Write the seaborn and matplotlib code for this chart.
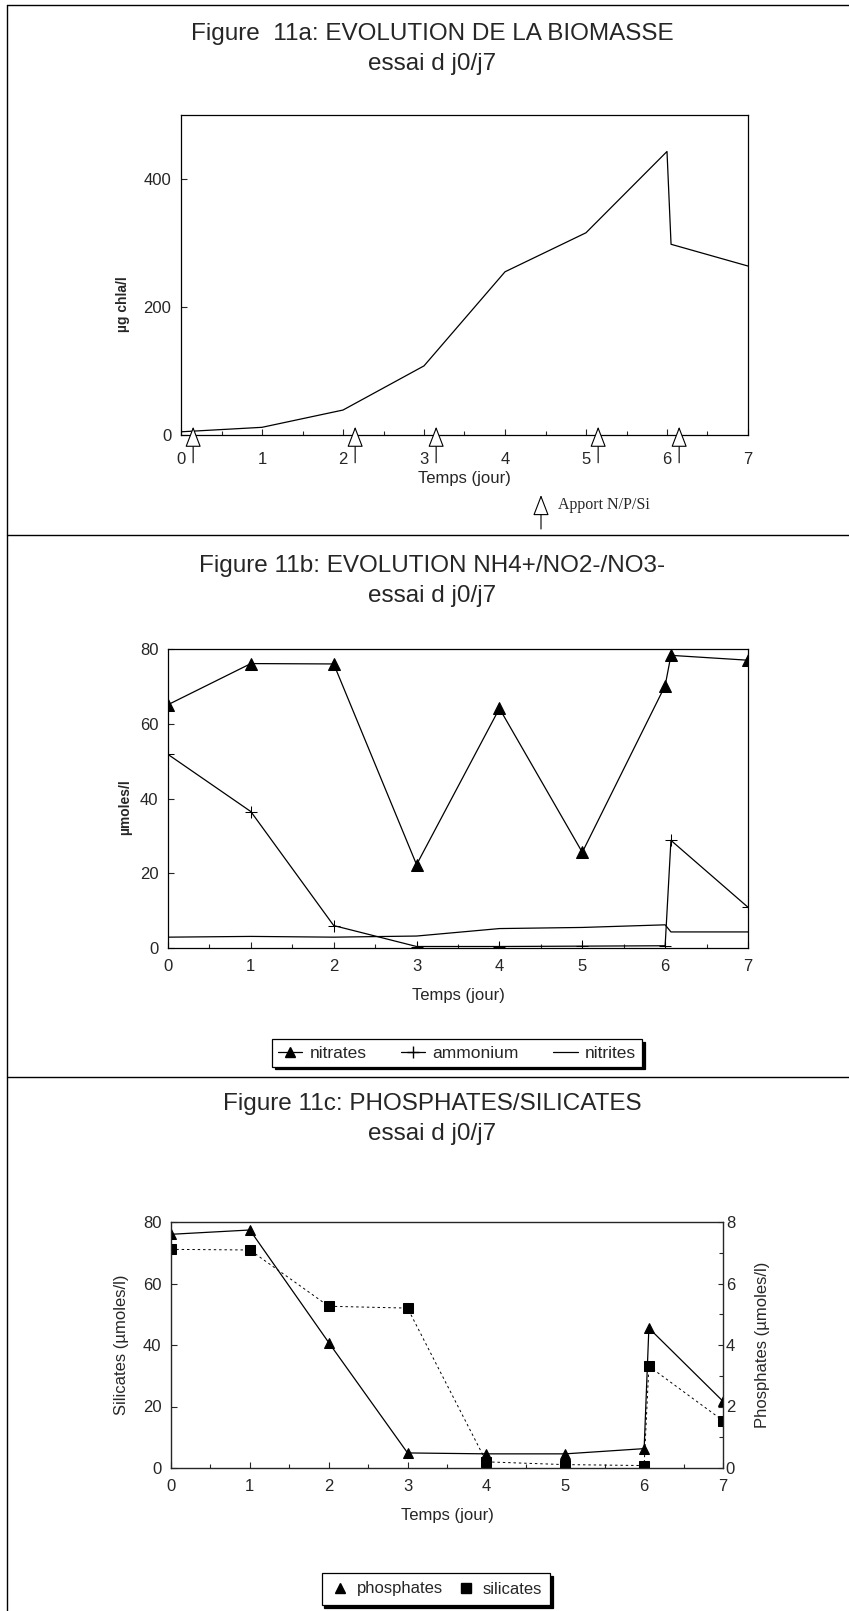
import numpy as np
import pandas as pd
import matplotlib
matplotlib.use("Agg")
import matplotlib.pyplot as plt
import seaborn as sns
from matplotlib.lines import Line2D
from matplotlib.patches import FancyArrowPatch
from matplotlib.transforms import offset_copy

# Figure 11a - biomasse
jours_a = [0, 1, 2, 3, 4, 5, 6, 6.05, 7]
chla = [5, 12, 39, 108, 255, 316, 443, 298, 264]
apport_jours = [0.15, 2.15, 3.15, 5.15, 6.15]

# Figure 11b - NH4+/NO2-/NO3-
jours_b = [0, 1, 2, 3, 4, 5, 6, 6.07, 7]
nitrates = [65.1, 76.1, 76.0, 22.3, 64.1, 25.6, 70.2, 78.3, 77.0]
ammonium = [51.8, 36.5, 6.0, 0.4, 0.4, 0.5, 0.6, 28.8, 10.9]
nitrites = [2.9, 3.1, 2.9, 3.2, 5.2, 5.5, 6.2, 4.3, 4.3]

# Figure 11c - phosphates / silicates
jours_c = [0, 1, 2, 3, 4, 5, 6, 6.06, 7]
phosphates = [7.6, 7.74, 4.08, 0.49, 0.46, 0.46, 0.63, 4.55, 2.17]
silicates = [71.1, 70.9, 52.6, 52.0, 2.0, 1.1, 0.8, 33.1, 15.4]

titres = [("Figure  11a: EVOLUTION DE LA BIOMASSE", "essai d j0/j7"),
          ("Figure 11b: EVOLUTION NH4+/NO2-/NO3-", "essai d j0/j7"),
          ("Figure 11c: PHOSPHATES/SILICATES", "essai d j0/j7")]

sns.set_style("ticks")
plt.rcParams['font.family'] = ['Liberation Sans', 'DejaVu Sans']

W, H = 849, 1611
fig = plt.figure(figsize=(W / 100, H / 100), dpi=100)


def px_axes(l, t, r, b):
    return fig.add_axes([l / W, 1 - b / H, (r - l) / W, (b - t) / H])


def hline(y, x0=7, x1=W):
    fig.add_artist(Line2D([x0 / W, x1 / W], [1 - y / H, 1 - y / H], transform=fig.transFigure, color='k', lw=1))


# page frame and separators
hline(5)
hline(535)
hline(1077)
fig.add_artist(Line2D([7 / W, 7 / W], [0, 1 - 5 / H], transform=fig.transFigure, color='k', lw=1))

# titles
for ty, (t1, t2) in zip([34, 566, 1104], titres):
    fig.text(432 / W, 1 - ty / H, t1, ha='center', va='center', fontsize=17.5)
    fig.text(432 / W, 1 - (ty + 30) / H, t2, ha='center', va='center', fontsize=17.5)


def style_x(ax, pad, lpad):
    ax.set_xlim(0, 7)
    ax.set_xticks(range(8))
    ax.set_xticks(np.arange(0.5, 7, 1), minor=True)
    ax.tick_params(axis='both', which='both', direction='in', width=0.8, labelsize=12)
    ax.tick_params(which='major', length=4)
    ax.tick_params(which='minor', length=3)
    ax.tick_params(axis='x', pad=pad)
    ax.tick_params(axis='y', pad=7)
    for s in ax.spines.values():
        s.set_visible(True)
        s.set_linewidth(0.9)
        s.set_color('black')
    ax.set_xlabel("Temps (jour)", fontsize=12, labelpad=lpad)


# ---- 11a
ax1 = px_axes(181, 115, 748, 435)
sns.lineplot(x=jours_a, y=chla, color='black', lw=0.9, ax=ax1, estimator=None, sort=False)
ax1.set_ylim(0, 500)
ax1.set_yticks([0, 200, 400])
style_x(ax1, 12, 3)
ax1.set_ylabel("µg chla/l", fontsize=10, fontweight='bold', va='center')
ax1.yaxis.set_label_coords(-0.103, 0.41)

tip = offset_copy(ax1.transData, fig=fig, x=0, y=6, units='points')
fleche = '-|>,head_length=1.3,head_width=0.5'
for d in apport_jours:
    ax1.annotate('', xy=(d, 0), xycoords=tip, xytext=(0, -26), textcoords='offset points',
                 arrowprops=dict(arrowstyle=fleche, mutation_scale=10,
                                 fc='white', ec='black', lw=0.8, shrinkA=0, shrinkB=0))
# key for the arrows
fig.add_artist(FancyArrowPatch((541 / W, 1 - 529 / H), (541 / W, 1 - 495 / H),
                               transform=fig.transFigure, arrowstyle=fleche, mutation_scale=10,
                               shrinkA=0, shrinkB=0, fc='white', ec='black', lw=0.8))
fig.text(558 / W, 1 - 505 / H, "Apport N/P/Si", family=['Liberation Serif'], fontsize=11.5, va='center')

# ---- 11b
ax2 = px_axes(168, 649, 748, 948)
sns.lineplot(x=jours_b, y=nitrates, color='black', lw=0.9, marker='^', markersize=8,
             mec='black', mfc='black', ax=ax2, estimator=None, sort=False)
sns.lineplot(x=jours_b, y=ammonium, color='black', lw=0.9, marker='+', markersize=9,
             mec='black', ax=ax2, estimator=None, sort=False)
sns.lineplot(x=jours_b, y=nitrites, color='black', lw=0.9, ax=ax2, estimator=None, sort=False)
ax2.set_ylim(0, 80)
ax2.set_yticks(range(0, 81, 20))
style_x(ax2, 8, 10)
ax2.set_ylabel("µmoles/l", fontsize=10, fontweight='bold', va='center')
ax2.yaxis.set_label_coords(-0.074, 0.47)

h_b = [Line2D([], [], color='k', lw=0.9, marker='^', ms=7),
       Line2D([], [], color='k', lw=0.9, marker='+', ms=8),
       Line2D([], [], color='k', lw=0.9)]
leg = fig.legend(h_b, ["nitrates", "ammonium", "nitrites"], loc='center', ncol=3,
                 bbox_to_anchor=(457 / W, 1 - 1053 / H), fontsize=12.5, frameon=True, fancybox=False,
                 edgecolor='black', handlelength=1.4, handletextpad=0.4, columnspacing=2.0,
                 borderpad=0.35, shadow={'color': 'black', 'alpha': 1})
leg.get_frame().set_linewidth(0.9)

# ---- 11c
ax3 = px_axes(171, 1222, 723, 1468)
ax3r = ax3.twinx()
sns.lineplot(x=jours_c, y=phosphates, color='black', lw=0.9, marker='^', markersize=7,
             mec='black', mfc='black', ax=ax3r, estimator=None, sort=False)
sns.lineplot(x=jours_c, y=silicates, color='black', lw=0.7, marker='s', markersize=7,
             mec='black', mfc='black', ax=ax3, estimator=None, sort=False)
ax3.lines[-1].set_linestyle((0, (2.5, 3)))
ax3.set_ylim(0, 80)
ax3.set_yticks(range(0, 81, 20))
ax3r.set_ylim(0, 8)
ax3r.set_yticks(range(0, 9, 2))
ax3r.set_yticks(range(1, 8, 2), minor=True)
style_x(ax3, 8, 10)
ax3r.tick_params(axis='y', which='both', direction='in', labelsize=12, pad=2, width=0.8)
ax3r.tick_params(which='minor', length=3)
ax3.set_ylabel("Silicates (µmoles/l)", fontsize=12, va='center')
ax3.yaxis.set_label_coords(-0.089, 0.5)
ax3r.set_ylabel("Phosphates (µmoles/l)", fontsize=12, va='center')
ax3r.yaxis.set_label_coords(1.072, 0.5)

h_c = [Line2D([], [], color='k', lw=0, marker='^', ms=7),
       Line2D([], [], color='k', lw=0, marker='s', ms=7)]
leg2 = fig.legend(h_c, ["phosphates", "silicates"], loc='center', ncol=2,
                  bbox_to_anchor=(436 / W, 1 - 1589 / H), fontsize=12, frameon=True, fancybox=False,
                  edgecolor='black', handlelength=1.2, handletextpad=0.4, columnspacing=0.8,
                  borderpad=0.5, shadow={'color': 'black', 'alpha': 1})
leg2.get_frame().set_linewidth(0.9)

fig.savefig("out.png", dpi=100)
